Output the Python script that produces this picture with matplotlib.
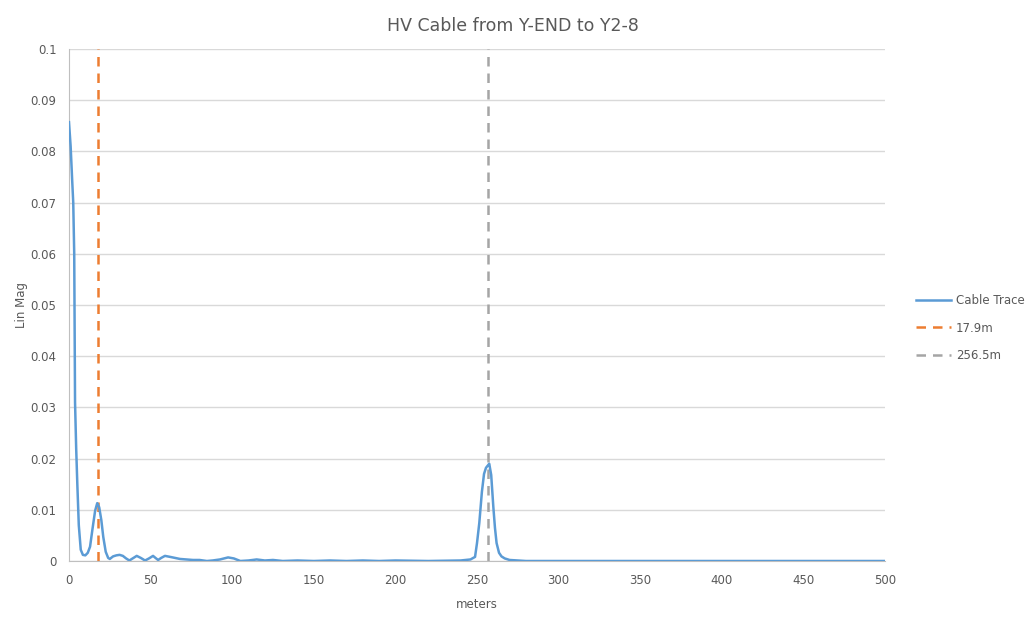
import numpy as np
from matplotlib import pyplot as plt

# trace (meters, lin mag)
meters = [0, 1, 2, 2.6, 3.2, 3.7, 4.4, 5.1, 6, 7.2, 8.5, 10, 11.5, 12.9, 14.5, 16, 17.3, 18.5,
          19.8, 21, 22.5, 24, 25, 27, 29, 31, 33, 35, 37, 39, 41.5, 44, 46.6, 49, 51.5, 53,
          54.6, 56.5, 58.8, 62, 65, 68, 72, 76, 80, 84.5, 88, 92.5, 97.5, 101, 105, 110,
          115, 120, 125, 128, 131, 140, 150, 160, 170, 180, 190, 200, 220, 240, 246,
          248.8, 250, 251.4, 253, 254.3, 255.5, 256.5, 257.5, 258.7, 260, 261, 262, 263.5,
          265, 267, 270, 275, 280, 300, 350, 400, 450, 500]
lin_mag = [0.0857, 0.081, 0.074, 0.070, 0.060, 0.031, 0.022, 0.015, 0.007, 0.0022, 0.0012,
           0.0011, 0.0016, 0.0028, 0.0065, 0.0098, 0.0113, 0.0105, 0.0080, 0.0047, 0.0018,
           0.0006, 0.0004, 0.0009, 0.0011, 0.0012, 0.0010, 0.0005, 0.0001, 0.0005, 0.0010,
           0.0006, 0.0001, 0.0005, 0.0010, 0.0006, 0.0002, 0.0006, 0.0010, 0.0008, 0.0006,
           0.0004, 0.0003, 0.0002, 0.0002, 0.0, 0.0001, 0.0003, 0.0007, 0.0005, 0.0, 0.0001,
           0.0003, 0.0001, 0.0002, 0.0001, 0.0, 0.0001, 0.0, 0.0001, 0.0, 0.0001, 0.0, 0.0001,
           0.0, 0.0001, 0.0003, 0.0008, 0.0035, 0.0074, 0.0135, 0.0170, 0.0182, 0.0186,
           0.0190, 0.0168, 0.0106, 0.0065, 0.0035, 0.0016, 0.0009, 0.0005, 0.0002, 0.0001,
           0.0, 0.0, 0.0, 0.0, 0.0, 0.0]
markers_m = [17.9, 256.5]
marker_labels = ['17.9m', '256.5m']
marker_colors = ['#ED7D31', '#A5A5A5']

txt = '#595959'
fig = plt.figure(figsize=(10.25, 6.22), dpi=100)
ax = fig.add_axes([69 / 1025, 1 - 561 / 622, 816 / 1025, 512 / 622])

ax.plot(meters, lin_mag, color='#5B9BD5', lw=1.8, label='Cable Trace', zorder=3)
for m, lab, c in zip(markers_m, marker_labels, marker_colors):
    ax.plot([m, m], [0, 0.1], color=c, lw=1.8, ls=(0, (3.8, 2.8)), label=lab, zorder=2)

ax.set_xlim(0, 500)
ax.set_ylim(0, 0.1)
ax.set_xticks(np.arange(0, 501, 50))
yt = np.arange(0, 0.1001, 0.01)
ax.set_yticks(yt)
ax.set_yticklabels(['0'] + ['%g' % round(v, 2) for v in yt[1:]])
ax.grid(axis='y', color='#D9D9D9', lw=1)
ax.set_axisbelow(True)
for s in ['top', 'right']:
    ax.spines[s].set_visible(False)
for s in ['left', 'bottom']:
    ax.spines[s].set_color('#BFBFBF')
ax.tick_params(length=0, labelsize=8.5, colors=txt, pad=9)

ax.set_xlabel('meters', fontsize=8.5, color=txt, labelpad=8)
ax.set_ylabel('Lin Mag', fontsize=8.5, color=txt)
ax.yaxis.set_label_coords(-0.05, 0.5)
fig.suptitle('HV Cable from Y-END to Y2-8', fontsize=12.5, color=txt, y=0.972)

ax.legend(loc='center left', bbox_to_anchor=(1.032, 0.455), frameon=False, fontsize=8.5,
          labelcolor=txt, handlelength=3.0, handletextpad=0.4, labelspacing=1.25,
          borderaxespad=0)

plt.savefig('out.png', dpi=100)
